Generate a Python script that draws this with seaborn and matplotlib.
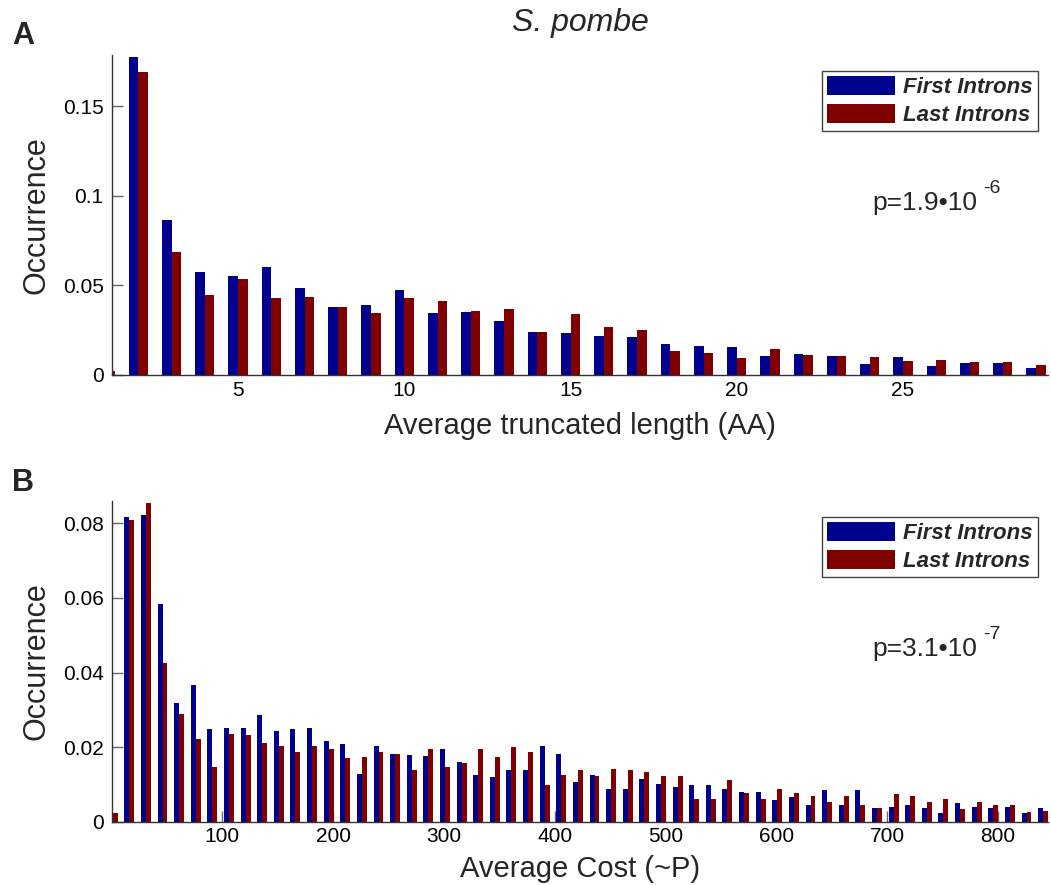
import numpy as np
import pandas as pd
import matplotlib
matplotlib.use("Agg")
import matplotlib.pyplot as plt
import seaborn as sns

# ---------------- data ----------------
series_names = ["First Introns", "Last Introns"]

len_x = [1, 2, 3, 4, 5, 6, 7, 8, 9, 10, 11, 12, 13, 14, 15, 16, 17, 18, 19, 20,
         21, 22, 23, 24, 25, 26, 27, 28, 29]
first_len = [0.0, 0.1773, 0.0865, 0.0575, 0.0552, 0.0601, 0.0485, 0.0379, 0.0392, 0.0472,
             0.0344, 0.0353, 0.0303, 0.0242, 0.0234, 0.0218, 0.0210, 0.0171, 0.0162, 0.0158,
             0.0104, 0.0117, 0.0106, 0.0061, 0.0099, 0.0050, 0.0069, 0.0065, 0.0037]
last_len = [0.0022, 0.1693, 0.0685, 0.0448, 0.0537, 0.0428, 0.0437, 0.0379, 0.0348, 0.0431,
            0.0411, 0.0359, 0.0367, 0.0242, 0.0339, 0.0270, 0.0249, 0.0132, 0.0125, 0.0095,
            0.0143, 0.0112, 0.0106, 0.0099, 0.0078, 0.0084, 0.0071, 0.0071, 0.0054]

cost_x = [1, 16, 31, 46, 61, 76, 91, 106, 121, 136,
          151, 166, 181, 196, 211, 226, 241, 256, 271, 286,
          301, 316, 331, 346, 361, 376, 391, 406, 421, 436,
          451, 466, 481, 496, 511, 526, 541, 556, 571, 586,
          601, 616, 631, 646, 661, 676, 691, 706, 721, 736,
          751, 766, 781, 796, 811, 826, 841]
first_cost = [0.0, 0.0817, 0.0822, 0.0584, 0.0319, 0.0367, 0.0248, 0.0252, 0.0252, 0.0287,
              0.0243, 0.0248, 0.0252, 0.0217, 0.0208, 0.0129, 0.0204, 0.0182, 0.0178, 0.0177,
              0.0195, 0.0160, 0.0124, 0.0119, 0.0138, 0.0138, 0.0203, 0.0182, 0.0106, 0.0124,
              0.0089, 0.0089, 0.0115, 0.0102, 0.0094, 0.0098, 0.0098, 0.0089, 0.0080, 0.0080,
              0.0058, 0.0067, 0.0045, 0.0085, 0.0045, 0.0085, 0.0036, 0.0040, 0.0045, 0.0036,
              0.0022, 0.0049, 0.0040, 0.0036, 0.0040, 0.0022, 0.0036]
last_cost = [0.0024, 0.0810, 0.0854, 0.0425, 0.0288, 0.0223, 0.0146, 0.0235, 0.0232, 0.0211,
             0.0203, 0.0187, 0.0203, 0.0194, 0.0170, 0.0174, 0.0187, 0.0182, 0.0139, 0.0194,
             0.0146, 0.0158, 0.0195, 0.0174, 0.0199, 0.0186, 0.0098, 0.0126, 0.0138, 0.0122,
             0.0142, 0.0138, 0.0134, 0.0122, 0.0122, 0.0062, 0.0062, 0.0111, 0.0078, 0.0062,
             0.0087, 0.0078, 0.0070, 0.0054, 0.0070, 0.0045, 0.0038, 0.0073, 0.0070, 0.0054,
             0.0062, 0.0033, 0.0054, 0.0045, 0.0045, 0.0025, 0.0029]

len_yticks = [0, 0.05, 0.1, 0.15]
len_yticklabels = ["0", "0.05", "0.1", "0.15"]
len_xticks = [5, 10, 15, 20, 25]
cost_yticks = [0, 0.02, 0.04, 0.06, 0.08]
cost_yticklabels = ["0", "0.02", "0.04", "0.06", "0.08"]
cost_xticks = [100, 200, 300, 400, 500, 600, 700, 800]

# ---------------- style ----------------
sns.set_style("ticks")
plt.rcParams["font.family"] = ["Liberation Sans", "DejaVu Sans"]

palette = {"First Introns": "#00008E", "Last Introns": "#800000"}

W, H = 1051, 885
fig = plt.figure(figsize=(W / 100, H / 100), dpi=100)


def px_axes(left, top, right, bottom):
    return fig.add_axes([left / W, 1 - bottom / H, (right - left) / W, (bottom - top) / H])


def make_df(x, a, b):
    return pd.DataFrame({
        "x": list(x) + list(x),
        "v": list(a) + list(b),
        "series": [series_names[0]] * len(x) + [series_names[1]] * len(x),
    })


def style_axes(ax, xlabel, yticks, yticklabels, xticks, ptext, pexp, xlabelpad):
    for s in ["top", "right"]:
        ax.spines[s].set_visible(False)
    for s in ["left", "bottom"]:
        ax.spines[s].set_color("#333333")
        ax.spines[s].set_linewidth(1.0)
    ax.set_axisbelow(True)
    ax.tick_params(direction="in", length=8, width=1, color="#666666",
                   labelsize=15, labelcolor="black")
    ax.tick_params(axis="x", pad=4)
    ax.tick_params(axis="y", pad=6)
    ax.set_yticks(yticks)
    ax.set_yticklabels(yticklabels)
    ax.set_xticks(xticks)
    ax.set_xticklabels([str(t) for t in xticks])
    ax.set_xlabel(xlabel, fontsize=21, labelpad=xlabelpad)
    ax.set_ylabel("Occurrence", fontsize=22, labelpad=8)
    handles, labels = ax.get_legend_handles_labels()
    if ax.get_legend() is not None:
        ax.get_legend().remove()
    leg = ax.legend(handles, labels, loc="upper right", bbox_to_anchor=(0.9893, 0.95),
                    borderaxespad=0, frameon=True, fancybox=False,
                    prop={"size": 16, "weight": "bold", "style": "italic"},
                    handlelength=3.05, handleheight=0.95, labelspacing=0.25,
                    handletextpad=0.4, borderpad=0.22)
    leg.get_frame().set_edgecolor("#444444")
    leg.get_frame().set_linewidth(1.0)
    leg.get_frame().set_alpha(1)
    ax.text(0.812, 0.516, ptext, transform=ax.transAxes, fontsize=19,
            ha="left", va="baseline")
    ax.text(0.9305, 0.569, pexp, transform=ax.transAxes, fontsize=14,
            ha="left", va="baseline")


# ---------------- panel A ----------------
axA = px_axes(112, 55, 1048, 375)
sns.barplot(data=make_df(len_x, first_len, last_len), x="x", y="v", hue="series",
            native_scale=True, width=0.58, palette=palette, saturation=1,
            errorbar=None, linewidth=0, ax=axA)
axA.set_xlim(1.21, 29.36)
axA.set_ylim(0, 0.1786)
style_axes(axA, "Average truncated length (AA)", len_yticks, len_yticklabels,
           len_xticks, "p=1.9\u202210", "-6", 9)

# ---------------- panel B ----------------
axB = px_axes(112, 501, 1048, 821.7)
sns.barplot(data=make_df(cost_x, first_cost, last_cost), x="x", y="v", hue="series",
            native_scale=True, width=0.6, palette=palette, saturation=1,
            errorbar=None, linewidth=0, ax=axB)
axB.set_xlim(0.4, 845.4)
axB.set_ylim(0, 0.086)
style_axes(axB, "Average Cost (~P)", cost_yticks, cost_yticklabels,
           cost_xticks, "p=3.1\u202210", "-7", 6)

# ---------------- titles / panel letters ----------------
fig.text(580 / W, 1 - 23 / H, "S. pombe", fontsize=23, style="italic",
         ha="center", va="center")
fig.text(12 / W, 1 - 36 / H, "A", fontsize=22, weight="bold", ha="left", va="center")
fig.text(12 / W, 1 - 483 / H, "B", fontsize=22, weight="bold", ha="left", va="center")

fig.savefig("out.png", dpi=100)
